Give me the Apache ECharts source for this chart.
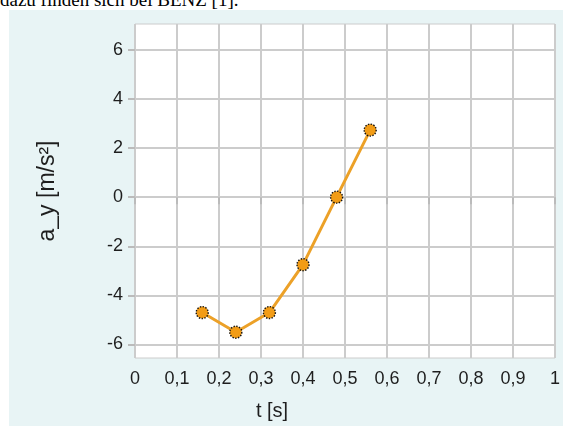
<!DOCTYPE html>
<html>
<head>
<meta charset="utf-8">
<script src="https://cdn.jsdelivr.net/npm/echarts@6/dist/echarts.min.js"></script>
<style>
  html, body { margin: 0; padding: 0; background: #fff; }
  body { width: 563px; height: 426px; position: relative; overflow: hidden; }
  .above {
    position: absolute; left: 0; top: -10px;
    font-family: "Liberation Serif", serif; font-size: 19px; line-height: 19px;
    color: #000; white-space: nowrap;
  }
  #panel {
    position: absolute; left: 9px; top: 10px; width: 554px; height: 416px;
    background: #e8f4f5;
  }
</style>
</head>
<body>
<div class="above">dazu finden sich bei BENZ [1].</div>
<div id="panel"></div>
<script>
  // measured points
  const tValues = [0.16, 0.24, 0.32, 0.40, 0.48, 0.56];
  const ayValues = [-4.7, -5.5, -4.7, -2.75, 0.0, 2.73];
  const yTicks = [-6, -4, -2, 0, 2, 4, 6];
  const xName = 't [s]';
  const yName = 'a_y [m/s²]';

  let chart = echarts.init(document.getElementById('panel'));
  let gridLine = {show: true, lineStyle: {color: '#cccccc', width: 2}};
  let txt = {color: '#1e1e1e', fontFamily: 'Liberation Sans', fontSize: 18};

  chart.setOption({
    animation: false,
    grid: {
      left: 126, top: 14, right: 4, bottom: 68,
      show: true, backgroundColor: '#fff',
      borderColor: '#cccccc', borderWidth: 1
    },
    xAxis: {
      type: 'value',
      min: 0, max: 1, interval: 0.1,
      name: xName,
      nameLocation: 'middle',
      nameGap: 43,
      nameTextStyle: Object.assign({}, txt, {fontSize: 20, padding: [0, 146, 0, 0]}),
      axisLine: {show: false},
      axisTick: {show: true, length: 7, lineStyle: {color: '#bbb', width: 2}},
      axisLabel: Object.assign({}, txt, {
        margin: 12,
        formatter: function (v) {
          let r = Math.round(v * 10) / 10;
          if (r === 0) return '0';
          if (r === 1) return '1';
          return r.toFixed(1).replace('.', ',');
        }
      }),
      splitLine: gridLine
    },
    yAxis: {
      type: 'value',
      min: -6.55, max: 7.05,
      name: yName,
      nameLocation: 'middle',
      nameGap: 76,
      nameTextStyle: Object.assign({}, txt, {fontSize: 23}),
      axisLine: {show: false},
      axisTick: {show: true, length: 7, customValues: yTicks, lineStyle: {color: '#bbb', width: 2}},
      axisLabel: Object.assign({}, txt, {margin: 12, customValues: yTicks}),
      splitLine: gridLine
    },
    series: [{
      type: 'line',
      data: tValues.map((t, i) => [t, ayValues[i]]),
      symbol: 'circle',
      symbolSize: 12,
      lineStyle: {color: '#eca128', width: 3},
      itemStyle: {color: '#f29c16', borderColor: '#111', borderWidth: 1.4, borderType: 'dotted'}
    }]
  });
</script>
</body>
</html>
